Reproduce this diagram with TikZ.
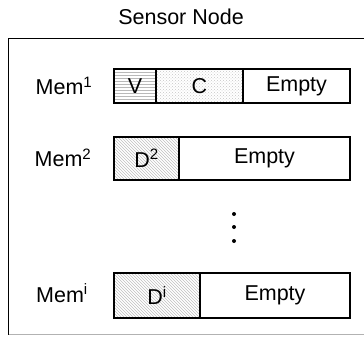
\documentclass[tikz,border=0pt]{standalone}
\usepackage{fontspec}
\setmainfont{Liberation Sans}
\usetikzlibrary{patterns,positioning}

\begin{document}
\begin{tikzpicture}[x=1pt,y=-1pt,
  cell/.style={rectangle, draw, line width=1.2pt, outer sep=0pt, inner sep=0pt,
    font=\fontsize{21.5}{24}\selectfont},
  memlabel/.style={font=\fontsize{21.5}{24}\selectfont, inner sep=0pt},
  every node/.style={text=black}
]
  \useasboundingbox (0,0) rectangle (364,337);

  % Outer frame
  \node[font=\fontsize{21.5}{24}\selectfont] (title) at (181,17) {Sensor Node};
  \draw[line width=1.3pt] (380,38.5) -- (8.5,38.5) -- (8.5,334.5);
  \draw[gray!60, line width=1pt] (8.5,334.5) -- (380,334.5);

  % Mem 1
  \node[memlabel] (mem1) at (64,86) {Mem\textsuperscript{1}};
  \node[cell, anchor=west, minimum width=42pt, minimum height=34pt,
    pattern=horizontal lines, pattern color=gray!55] (v) at (114,86) {V};
  \node[cell, right=0pt of v, minimum width=87pt, minimum height=34pt,
    pattern=crosshatch dots, pattern color=gray!45] (c) {C};
  \node[cell, right=0pt of c, minimum width=107pt, minimum height=34pt] (empty1) {Empty};

  % Mem 2
  \node[memlabel] (mem2) at (63,158) {Mem\textsuperscript{2}};
  \node[cell, anchor=west, minimum width=65pt, minimum height=43pt,
    pattern=north west lines, pattern color=gray!50] (d2) at (114,158.5) {D\textsuperscript{2}};
  \node[cell, right=0pt of d2, minimum width=171pt, minimum height=43pt] (empty2) {Empty};

  % dots
  \foreach \y in {214,227,241}
    \fill (234,\y) circle (2pt);

  % Mem i
  \node[memlabel] (memi) at (62,293) {Mem\textsuperscript{i}};
  \node[cell, anchor=west, minimum width=86pt, minimum height=45pt,
    pattern=north west lines, pattern color=gray!50] (di) at (114,295.5) {D\textsuperscript{i}};
  \node[cell, right=0pt of di, minimum width=150pt, minimum height=45pt] (emptyi) {Empty};
\end{tikzpicture}
\end{document}
